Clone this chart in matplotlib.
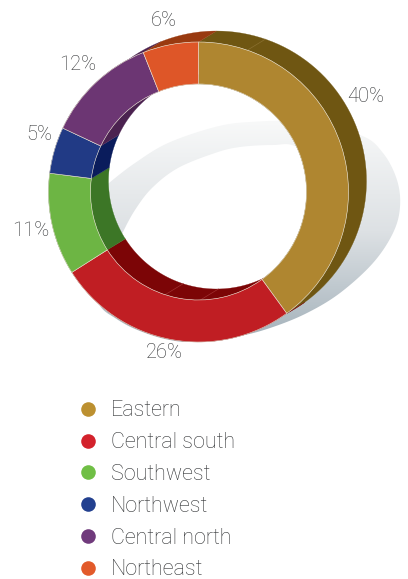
import numpy as np
import matplotlib
matplotlib.use("Agg")
import matplotlib.pyplot as plt

from matplotlib.colors import LinearSegmentedColormap
from matplotlib.lines import Line2D
from matplotlib.path import Path
from matplotlib.patches import PathPatch, Polygon

# -----------------------
# Data
# -----------------------

regions = ["Eastern", "Central south", "Southwest", "Northwest", "Central north", "Northeast"]
shares = [40, 26, 11, 5, 12, 6]
face_colors = ["#AF8630", "#C01E23", "#6DB544", "#213A85", "#6C3673", "#DE5628"]
side_colors = ["#6F5612", "#7C0506", "#3C7626", "#0A1C5C", "#4B2250", "#993A10"]
legend_colors = ["#BC9030", "#D3222C", "#70BF45", "#22408F", "#703A7C", "#E25A2A"]

# -----------------------
# Layout (pixel space, y up)
# -----------------------

W, H = 408, 579
CX, CY = 198.5, H - 192
R_OUT, R_IN = 150, 108
DX, DY = 18, 11

TEXT_COLOR = "#303234"
FONT = ["Roboto", "DejaVu Sans"]

# shadow outline, x and y measured from the top left
shadow_outer = [
    (109, 183), (135, 163), (168, 143), (215, 127), (250, 122), (300, 122),
    (360, 135), (383, 153), (397, 180), (400, 207), (393, 233), (373, 263),
    (340, 293), (307, 313), (273, 327), (240, 336), (195, 342), (165, 339),
    (135, 329), (115, 318), (100, 306), (88, 280), (84, 240), (90, 200),
]
shadow_inner = [
    (118, 245), (123, 232), (135, 210), (152, 188), (178, 168), (215, 153),
    (240, 147), (273, 145), (297, 147), (335, 175), (340, 220), (300, 270),
    (220, 300), (160, 295),
]

fig = plt.figure(figsize=(W / 100, H / 100), dpi=100)
ax = fig.add_axes([0, 0, 1, 1])


def closed_curve(points, reverse=False):
    # closed Catmull-Rom through the outline points
    p = np.array(points, dtype=float)
    p[:, 1] = H - p[:, 1]
    n = len(p)
    out = []
    for i in range(n):
        p0, p1, p2, p3 = p[i - 1], p[i], p[(i + 1) % n], p[(i + 2) % n]
        for t in np.linspace(0, 1, 12, endpoint=False):
            out.append(
                0.5 * (2 * p1 + (p2 - p0) * t
                       + (2 * p0 - 5 * p1 + 4 * p2 - p3) * t ** 2
                       + (3 * p1 - p0 - 3 * p2 + p3) * t ** 3)
            )
    out = np.array(out)
    return out[::-1] if reverse else out


def arc(radius, a0, a1, dx=0, dy=0):
    # angles are degrees clockwise from 12 o'clock
    t = np.radians(np.linspace(a0, a1, 60))
    return np.column_stack([CX + dx + radius * np.sin(t), CY + dy + radius * np.cos(t)])


# -----------------------
# Cast shadow
# -----------------------

outer = closed_curve(shadow_outer)
inner = closed_curve(shadow_inner, reverse=True)
verts = np.vstack([outer, inner])
codes = [Path.MOVETO] + [Path.LINETO] * (len(outer) - 1) + [Path.MOVETO] + [Path.LINETO] * (len(inner) - 1)
shadow_path = PathPatch(Path(verts, codes), transform=ax.transData, fc="none", ec="none")
ax.add_patch(shadow_path)

shadow_cmap = LinearSegmentedColormap.from_list("shadow", ["#F8F9F9", "#DDE1E4", "#A3B1BA"])
img = ax.imshow(
    np.linspace(0, 1, 256).reshape(-1, 1),
    extent=[50, 408, H - 342, H - 120],
    cmap=shadow_cmap,
    aspect="auto",
    origin="upper",
    zorder=1,
)
img.set_clip_path(shadow_path)

# -----------------------
# Ring walls
# -----------------------

edges = np.concatenate([[0], np.cumsum(shares)]) * 360 / sum(shares)

for radius in (R_OUT, R_IN):
    for i, color in enumerate(side_colors):
        front = arc(radius, edges[i], edges[i + 1])
        back = arc(radius, edges[i + 1], edges[i], DX, DY)
        ax.add_patch(Polygon(np.vstack([front, back]), fc=color, ec=color, lw=0.2, zorder=2))

# facet lines on the walls
for radius, angle, tone in [(R_OUT, 19, "#8A7030"), (R_IN, 198, "#A03030"), (R_IN, 179, "#A03030")]:
    p = arc(radius, angle, angle)[0]
    ax.plot([p[0], p[0] + DX], [p[1], p[1] + DY], color=tone, lw=0.5, zorder=3)

# -----------------------
# Front face
# -----------------------

wedges, _ = ax.pie(
    shares,
    colors=face_colors,
    radius=R_OUT,
    center=(CX, CY),
    startangle=90,
    counterclock=False,
    wedgeprops=dict(width=R_OUT - R_IN, edgecolor="#E9E2D2", linewidth=0.4, zorder=4),
)

# -----------------------
# Percent labels
# -----------------------

label_pos = [(366, 97), (164, 353), (31, 231), (39, 135), (78, 65), (164, 21)]

for share, (x, y) in zip(shares, label_pos):
    ax.text(
        x, H - y, f"{share}%",
        ha="center", va="center",
        fontsize=14.5, color=TEXT_COLOR,
        family=FONT, weight="light",
        zorder=5,
    )

# -----------------------
# Legend
# -----------------------

handles = [
    Line2D([], [], linestyle="none", marker="o", markersize=10.5,
           markerfacecolor=c, markeredgecolor="none")
    for c in legend_colors
]

ax.legend(
    handles,
    regions,
    loc="upper left",
    bbox_to_anchor=(79 / W, 1 - 400.5 / H),
    frameon=False,
    prop={"family": FONT, "weight": "light", "size": 15.5},
    labelcolor=TEXT_COLOR,
    labelspacing=0.5,
    handletextpad=0.68,
    borderpad=0,
    borderaxespad=0,
    handlelength=0.8,
)

ax.set_xlim(0, W)
ax.set_ylim(0, H)
ax.set_aspect("auto")
ax.axis("off")

fig.savefig("out.png", dpi=100)
